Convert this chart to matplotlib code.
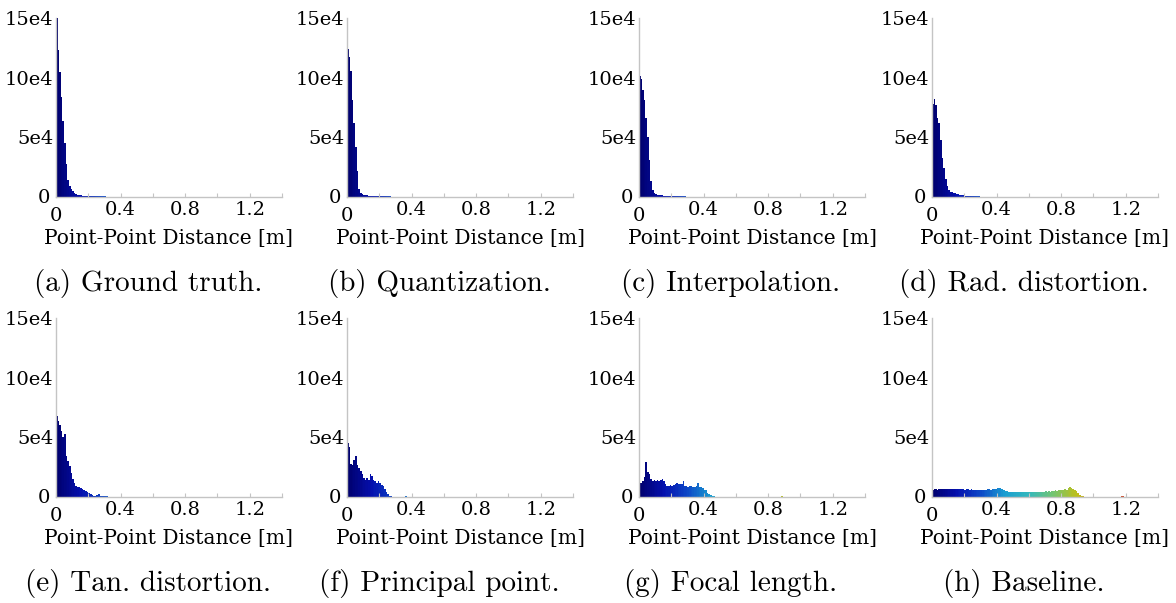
import matplotlib
matplotlib.use("Agg")
import matplotlib.pyplot as plt
import matplotlib.transforms as mtransforms
import numpy as np
from matplotlib.colors import LinearSegmentedColormap, Normalize

# histogram counts per 0.01 m bin, in thousands of points
ground_truth = [150, 123, 105, 84, 64, 45, 28, 14, 9, 7,
                5, 3.5, 2.5, 2.0, 1.6, 1.4, 1.2, 1.1, 1.0, 0.9,
                0.8, 0.8, 0.7, 0.7, 0.6, 0.6, 0.6, 0.5, 0.5, 0.5,
                0.5, 0.4, 0.4, 0.4, 0.4, 0.4, 0.3, 0.3, 0.3, 0.3,
                0.3, 0.3, 0.3, 0.2, 0.2, 0.2, 0.2, 0.2, 0.2, 0.2,
                0.2, 0.2, 0.2, 0.2, 0.1]
quantization = [124, 117, 106, 81, 62, 42, 22, 7, 3.5, 2.5,
                2.0, 1.6, 1.4, 1.2, 1.0, 0.9, 0.8, 0.8, 0.7, 0.7,
                0.6, 0.6, 0.6, 0.5, 0.5, 0.5, 0.5, 0.4, 0.4, 0.4,
                0.4, 0.4, 0.3, 0.3, 0.3, 0.3, 0.3, 0.3, 0.3, 0.3,
                0.2, 0.2, 0.2, 0.2, 0.2, 0.2, 0.2, 0.2, 0.2, 0.2,
                0.2, 0.2, 0.2, 0.1]
interpolation = [101, 99, 90, 81, 66, 50, 31, 13, 6, 3.5,
                 2.5, 2.0, 1.7, 1.5, 1.3, 1.1, 1.0, 0.9, 0.8, 0.8,
                 0.7, 0.7, 0.6, 0.6, 0.6, 0.5, 0.5, 0.5, 0.5, 0.4,
                 0.4, 0.4, 0.4, 0.4, 0.3, 0.3, 0.3, 0.3, 0.3, 0.3,
                 0.3, 0.3, 0.2, 0.2, 0.2, 0.2, 0.2, 0.2, 0.2, 0.2,
                 0.2, 0.2, 0.2, 0.2, 0.2, 0.2, 0.2, 0.2, 0.2, 0.2,
                 0.1, 0.1]
rad_distortion = [78, 82, 77, 66, 62, 48, 33, 24, 15, 9,
                  6, 4.5, 4.0, 3.5, 3.0, 2.6, 2.2, 1.8, 1.5, 1.3,
                  1.1, 1.0, 0.9, 0.8, 0.7, 0.6, 0.6, 0.5, 0.5, 0.5,
                  0.4, 0.4, 0.4, 0.4, 0.3, 0.3, 0.3, 0.3, 0.3, 0.3,
                  0.2, 0.2, 0.2, 0.2, 0.2, 0.2, 0.2, 0.2, 0.2, 0.2,
                  0.2, 0.2, 0.1, 0.1]
tan_distortion = [68, 64, 60, 55, 50, 53, 34, 30, 26, 20,
                  15, 12, 9, 8.5, 8, 7.5, 6.5, 5.5, 5, 4,
                  3.4, 2.5, 1.8, 1.1, 1.2, 2.0, 2.2, 1.2, 0.8, 0.6,
                  0.5, 0.5, 0.4, 0.4, 0.4, 0.3, 0.3, 0.3, 0.3, 0.3,
                  0.3, 0.2, 0.2, 0.2, 0.2, 0.2, 0.2, 0.2, 0.2, 0.2,
                  0.2, 0.2, 0.2, 0.1, 0.1]
principal_point = [45, 42, 28, 27, 31, 34, 27, 24, 22, 19,
                   16, 14.5, 16, 14, 19, 18, 14.5, 13, 12, 13,
                   12, 10, 9, 6.5, 4.5, 2.8, 1.0, 0.5, 0.4, 0.4,
                   0.3, 0.3, 0.3, 0.3, 0.3, 0.3, 0.5, 0.3, 0.2, 0.2,
                   0.2, 0.2, 0.2, 0.2, 0.2, 0.2, 0.2, 0.2, 0.2, 0.2,
                   0.2, 0.2, 0.2, 0.2, 0.2, 0.2, 0.1, 0.1, 0.1, 0.1]
focal_length = [12, 12, 13, 17, 29, 21, 19, 15, 13, 14,
                13, 14, 13, 14, 15, 13, 11, 9.5, 9, 10,
                9.5, 10, 11, 12, 11, 10.5, 11, 13, 9, 9,
                8.5, 9, 9, 8.5, 8.5, 9, 12, 8, 8, 7.5,
                6, 5.5, 3.5, 2.5, 1.5, 1.0, 0.6, 0.4, 0.4, 0.3,
                0.3, 0.3, 0.3, 0.3, 0.3, 0.3, 0.3, 0.3, 0.3, 0.3,
                0.3, 0.3, 0.3, 0.3, 0.2, 0.2, 0.2, 0.2, 0.2, 0.2,
                0.2, 0.2, 0.2, 0.2, 0.2, 0.2, 0.2, 0.2, 0.2, 0.2,
                0.2, 0.2, 0.2, 0.2, 0.2, 0.2, 0.3, 0.4, 0.5, 0.4,
                0.3, 0.2, 0.2, 0.2, 0.1, 0.1, 0.1, 0.1, 0.1, 0.1,
                0.1, 0.1, 0.1, 0.1, 0.1, 0.1, 0.1, 0.1, 0.1, 0.1,
                0.1, 0.1, 0.1, 0.1, 0.1, 0.1, 0.1, 0.1, 0.2, 0.3,
                0.3, 0.3, 0.2, 0.1, 0.1]
baseline = [6.0, 6.3, 6.5, 6.2, 6.6, 6.8, 6.4, 6.7, 6.9, 6.5,
            7.0, 6.6, 6.8, 6.5, 6.9, 6.6, 6.3, 6.7, 6.4, 6.6,
            6.2, 6.5, 6.3, 6.0, 6.4, 6.1, 5.8, 6.2, 5.9, 5.6,
            5.5, 5.8, 5.6, 6.0, 6.3, 6.5, 6.2, 6.6, 6.9, 7.0,
            7.2, 7.6, 7.3, 6.8, 6.0, 5.2, 4.8, 4.6, 4.4, 4.3,
            4.2, 4.3, 4.1, 4.3, 4.2, 4.0, 4.3, 4.1, 4.2, 4.4,
            4.2, 4.0, 4.3, 4.5, 4.2, 4.4, 4.1, 4.6, 3.9, 4.5,
            4.7, 4.4, 5.0, 4.6, 5.3, 5.0, 5.6, 5.4, 5.9, 5.7,
            6.0, 5.8, 6.4, 6.2, 7.3, 8.0, 7.2, 6.5, 6.0, 5.0,
            3.5, 2.0, 1.0, 0.5, 0.4, 0.3, 0.3, 0.3, 0.3, 0.3,
            0.3, 0.3, 0.3, 0.3, 0.3, 0.3, 0.3, 0.3, 0.3, 0.3,
            0.3, 0.3, 0.3, 0.3, 0.3, 0.4, 0.4, 0.5, 0.5, 0.4,
            0.3, 0.2, 0.1]

panels = [ground_truth, quantization, interpolation, rad_distortion,
          tan_distortion, principal_point, focal_length, baseline]
captions = ["(a) Ground truth.", "(b) Quantization.", "(c) Interpolation.",
            "(d) Rad. distortion.", "(e) Tan. distortion.",
            "(f) Principal point.", "(g) Focal length.", "(h) Baseline."]

bin_width = 0.01
x_ticks = [0, 0.2, 0.4, 0.6, 0.8, 1.0, 1.2, 1.4]
x_ticklabels = ["0", "", "0.4", "", "0.8", "", "1.2", ""]
y_ticks = [0, 5e4, 10e4, 15e4]
y_ticklabels = ["0", "5e4", "10e4", "15e4"]

# distance colour scale: navy -> blue -> teal -> green -> olive -> red
cmap = LinearSegmentedColormap.from_list("dist", [
    (0.0 / 1.4, (0.0, 0.0, 0.42)),
    (0.15 / 1.4, (0.02, 0.06, 0.68)),
    (0.3 / 1.4, (0.05, 0.28, 0.78)),
    (0.45 / 1.4, (0.1, 0.62, 0.82)),
    (0.6 / 1.4, (0.2, 0.72, 0.74)),
    (0.75 / 1.4, (0.45, 0.77, 0.45)),
    (0.9 / 1.4, (0.75, 0.75, 0.1)),
    (1.05 / 1.4, (0.85, 0.5, 0.1)),
    (1.2 / 1.4, (0.8, 0.25, 0.15)),
    (1.0, (0.6, 0.1, 0.1)),
])
norm = Normalize(0, 1.4)

W, H = 1176, 603
fig = plt.figure(figsize=(W / 100, H / 100), dpi=100)

lefts = [56, 347, 639, 932]
bottoms = [197, 497]
ax_w, ax_h = 226, 179
spine_col = "#c4c4c4"
serif = "DejaVu Serif"

# the two "0" labels sit apart from the corner
x0_shift = mtransforms.ScaledTranslation(0, -4 / 72, fig.dpi_scale_trans)
y0_shift = mtransforms.ScaledTranslation(-2 / 72, 1 / 72, fig.dpi_scale_trans)

for i, counts in enumerate(panels):
    row, col = divmod(i, 4)
    ax = fig.add_axes([lefts[col] / W, 1 - bottoms[row] / H, ax_w / W, ax_h / H])
    counts = np.array(counts) * 1000
    edges = np.arange(len(counts)) * bin_width
    ax.bar(edges, counts, width=bin_width, align="edge",
           color=cmap(norm(edges + bin_width / 2)), linewidth=0)

    ax.set_xlim(0, 1.4)
    ax.set_ylim(0, 15e4)
    for s in ["top", "right"]:
        ax.spines[s].set_visible(False)
    for s in ["left", "bottom"]:
        ax.spines[s].set_color(spine_col)
        ax.spines[s].set_linewidth(1.0)
    ax.set_xticks(x_ticks)
    ax.set_xticklabels(x_ticklabels, fontfamily=serif, fontsize=14)
    ax.set_yticks(y_ticks)
    ax.set_yticklabels(y_ticklabels, fontfamily=serif, fontsize=14)
    ax.tick_params(axis="x", direction="in", length=3, color=spine_col, pad=3)
    ax.tick_params(axis="y", length=0, pad=2)
    ax.set_xlabel("Point-Point Distance [m]", fontfamily=serif,
                  fontsize=14.5, labelpad=3)

    xl0 = ax.get_xticklabels()[0]
    xl0.set_transform(xl0.get_transform() + x0_shift)
    yl0 = ax.get_yticklabels()[0]
    yl0.set_transform(yl0.get_transform() + y0_shift)

    fig.text((lefts[col] + 92) / W, 1 - (bottoms[row] + 86) / H, captions[i],
             fontfamily="cmr10", fontsize=21, ha="center", va="center")

fig.savefig("out.png", dpi=100)
